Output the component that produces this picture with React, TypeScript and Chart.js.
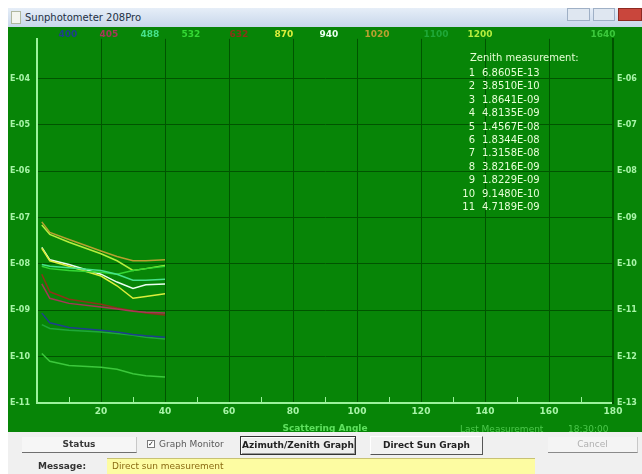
import React, { useEffect, useRef } from "react";
import { Chart, registerables } from "chart.js";
Chart.register(...registerables);

// ---------- data ----------
const wavelengths = ["400", "405", "488", "532", "632", "870", "940", "1020", "1100", "1200", "1640"];
const seriesColors = ["#1d3f8e", "#a83658", "#46e28c", "#34d834", "#8a3418", "#dcee3c", "#eafff0", "#b8a030", "#1fa838", "#b4ee3e", "#3cc83c"];
const scatteringAngles = [1.5, 4, 10, 20, 25, 30, 34, 40];
// values are log10 of measurement (exponent)
const s400 = [-9.06, -9.27, -9.37, -9.43, -9.47, -9.52, -9.55, -9.58];
const s405 = [-8.43, -8.74, -8.85, -8.93, -8.97, -9.02, -9.04, -9.06];
const s488 = [-8.01, -8.05, -8.08, -8.14, -8.22, -8.35, -8.35, -8.33];
const s532 = [-8.05, -8.10, -8.14, -8.18, -8.22, -8.14, -8.10, -8.05];
const s632 = [-8.22, -8.60, -8.76, -8.87, -8.95, -9.01, -9.06, -9.10];
const s870 = [-7.66, -7.93, -8.05, -8.26, -8.47, -8.74, -8.70, -8.64];
const s940 = [-7.64, -7.91, -8.01, -8.22, -8.39, -8.53, -8.45, -8.43];
const s1020 = [-7.09, -7.32, -7.47, -7.72, -7.84, -7.93, -7.93, -7.91];
const s1100 = [-9.31, -9.39, -9.43, -9.47, -9.50, -9.54, -9.58, -9.62];
const s1200 = [-7.16, -7.36, -7.53, -7.78, -7.93, -8.14, -8.10, -8.03];
const s1640 = [-9.93, -10.10, -10.19, -10.23, -10.27, -10.37, -10.41, -10.44];
const seriesValues = [s400, s405, s488, s532, s632, s870, s940, s1020, s1100, s1200, s1640];

const leftTickExponents = [-4, -5, -6, -7, -8, -9, -10, -11];
const rightAxisOffset = 2;
const xMajorTicks = [20, 40, 60, 80, 100, 120, 140, 160, 180];
const xMinorTicks = [10, 30, 50, 70, 90, 110, 130, 150, 170];

const zenithIndex = ["1", "2", "3", "4", "5", "6", "7", "8", "9", "10", "11"];
const zenithValues = ["6.8605E-13", "3.8510E-10", "1.8641E-09", "4.8135E-09", "1.4567E-08", "1.8344E-08", "1.3158E-08", "3.8216E-09", "1.8229E-09", "9.1480E-10", "4.7189E-09"];

// ---------- layout constants ----------
const legendX = [60, 101, 142, 183, 231, 276, 321, 369, 428, 472, 595];
const FONT = '"DejaVu Sans", Verdana, sans-serif';

const expLabel = (e: number) => {
  const n = Math.abs(Math.round(e));
  return "E-" + (n < 10 ? "0" + n : String(n));
};

const minorTickPlugin = {
  id: "minorTicks",
  afterDraw(chart: any) {
    const { ctx } = chart;
    const x = chart.scales.x;
    ctx.save();
    ctx.strokeStyle = "#9cf29c";
    ctx.lineWidth = 1;
    xMinorTicks.forEach((v) => {
      const px = Math.round(x.getPixelForValue(v)) + 0.5;
      ctx.beginPath();
      ctx.moveTo(px, x.top - 1);
      ctx.lineTo(px, x.top - 6);
      ctx.stroke();
    });
    ctx.restore();
  },
};

export default function App() {
  const canvasRef = useRef<HTMLCanvasElement>(null);

  useEffect(() => {
    const prevMargin = document.body.style.marginRight;
    document.body.style.marginRight = "0px";
    const tickFont = { family: FONT, size: 9, weight: "bold" as const };
    const yFont = { family: FONT, size: 8, weight: "bold" as const };
    const chart = new Chart(canvasRef.current as HTMLCanvasElement, {
      type: "line",
      data: {
        datasets: seriesValues.map((vals, i) => ({
          label: wavelengths[i],
          data: scatteringAngles.map((a, j) => ({ x: a, y: vals[j] })),
          borderColor: seriesColors[i],
          borderWidth: 1.5,
          pointRadius: 0,
          tension: 0,
          fill: false,
        })),
      },
      options: {
        animation: false,
        responsive: false,
        devicePixelRatio: 1,
        layout: { padding: 0 },
        plugins: { legend: { display: false }, tooltip: { enabled: false }, title: { display: false } },
        scales: {
          x: {
            type: "linear",
            position: "bottom",
            min: 0,
            max: 180,
            afterBuildTicks: (s: any) => {
              s.ticks = xMajorTicks.map((v) => ({ value: v }));
            },
            afterFit: (s: any) => {
              s.height = 29;
            },
            grid: { color: "#005400", lineWidth: 1, drawTicks: false },
            border: { color: "#9cf29c", width: 2 },
            ticks: { color: "#a8f4a8", font: tickFont, padding: 3, maxRotation: 0, autoSkip: false },
            title: {
              display: true,
              text: "Scattering Angle",
              color: "#5ee05e",
              font: { family: FONT, size: 9, weight: "bold", lineHeight: 1 },
              padding: { top: 0, bottom: -1 },
            },
          },
          y: {
            type: "linear",
            position: "left",
            min: -11,
            max: -3.14,
            afterBuildTicks: (s: any) => {
              s.ticks = leftTickExponents.map((v) => ({ value: v }));
            },
            afterFit: (s: any) => {
              s.width = 29;
            },
            grid: { color: "#005400", lineWidth: 1, drawTicks: false },
            border: { color: "#9cf29c", width: 2 },
            ticks: { color: "#a8f4a8", font: yFont, padding: 7, callback: (v: any) => expLabel(Number(v)) },
          },
          y2: {
            type: "linear",
            position: "right",
            min: -11,
            max: -3.14,
            afterBuildTicks: (s: any) => {
              s.ticks = leftTickExponents.map((v) => ({ value: v }));
            },
            afterFit: (s: any) => {
              s.width = 29;
            },
            grid: { drawOnChartArea: false, drawTicks: false },
            border: { color: "#005400", width: 2 },
            ticks: {
              color: "#a8f4a8",
              font: yFont,
              padding: 4,
              callback: (v: any) => expLabel(Number(v) - rightAxisOffset),
            },
          },
        },
      },
      plugins: [minorTickPlugin],
    });
    return () => {
      chart.destroy();
      document.body.style.marginRight = prevMargin;
    };
  }, []);

  const abs = (s: React.CSSProperties): React.CSSProperties => ({ position: "absolute", ...s });

  return (
    <div style={{ position: "relative", width: 634, height: 466, overflow: "hidden", fontFamily: FONT }}>
      {/* title bar */}
      <div style={abs({ left: 0, top: 0, width: 634, height: 19, background: "linear-gradient(#e6eef8, #c8d7eb)" })} />
      <div style={abs({ left: 3, top: 3, width: 8, height: 11, background: "#f4f6f0", border: "1px solid #b0b8a0" })} />
      <div style={abs({ left: 17, top: 0, height: 19, lineHeight: "19px", fontSize: 10, color: "#233044" })}>Sunphotometer 208Pro</div>
      <div style={abs({ left: 559, top: 0, width: 23, height: 13, background: "#dfe7f1", border: "1px solid #9fb0c6", boxSizing: "border-box" })} />
      <div style={abs({ left: 585, top: 0, width: 22, height: 13, background: "#dfe7f1", border: "1px solid #9fb0c6", boxSizing: "border-box" })} />
      <div style={abs({ left: 610, top: 0, width: 24, height: 13, background: "#c9463c", border: "1px solid #8e2a22", boxSizing: "border-box" })} />

      {/* chart */}
      <canvas ref={canvasRef} width={634} height={405} style={abs({ left: 0, top: 19, width: 634, height: 405, background: "#078507" })} />

      {/* legend labels */}
      {wavelengths.map((w, i) => (
        <div
          key={w}
          style={abs({
            left: legendX[i] - 15,
            width: 30,
            top: 20,
            textAlign: "center",
            fontSize: 9,
            fontWeight: "bold",
            lineHeight: "12px",
            color: seriesColors[i],
          })}
        >
          {w}
        </div>
      ))}

      {/* zenith block */}
      <div style={abs({ left: 462, top: 44, fontSize: 10, lineHeight: "12px", color: "#e6ffd6", whiteSpace: "nowrap" })}>Zenith measurement:</div>
      {zenithValues.map((v, i) => (
        <div key={i} style={abs({ left: 452, top: 58 + i * 13.4, fontSize: 10, lineHeight: "13px", color: "#e6ffd6", whiteSpace: "nowrap" })}>
          <span style={{ display: "inline-block", width: 15, textAlign: "right" }}>{zenithIndex[i]}</span>
          <span style={{ marginLeft: 7 }}>{v}</span>
        </div>
      ))}

      {/* last measurement */}
      <div style={abs({ left: 452, top: 416, fontSize: 9, lineHeight: "11px", color: "#4cc84c", whiteSpace: "nowrap" })}>Last Measurement</div>
      <div style={abs({ left: 560, top: 416, fontSize: 9, lineHeight: "11px", color: "#4cc84c", whiteSpace: "nowrap" })}>18:30:00</div>

      {/* bottom panel */}
      <div style={abs({ left: 0, top: 424, width: 634, height: 42, background: "#f0f0f0" })} />
      <div style={abs({ left: 14, top: 429, width: 115, height: 16, background: "#f6f6f6", borderBottom: "1px solid #6f6f6f", borderRight: "1px solid #c8c8c8", boxSizing: "border-box", textAlign: "center", fontSize: 9, fontWeight: "bold", lineHeight: "15px", color: "#3a3a3a" })}>Status</div>
      <div style={abs({ left: 139, top: 432, width: 8, height: 8, border: "1px solid #7a7a7a", background: "#fff", boxSizing: "border-box", fontSize: 7, lineHeight: "6px", textAlign: "center", color: "#222" })}>✓</div>
      <div style={abs({ left: 151, top: 430, fontSize: 9, lineHeight: "12px", color: "#5a5a5a", whiteSpace: "nowrap" })}>Graph Monitor</div>
      <div style={abs({ left: 232, top: 428, width: 116, height: 19, background: "#eeeeee", border: "1px solid #333", boxShadow: "inset 1px 1px 0 #fff, inset -1px -1px 0 #9a9a9a", boxSizing: "border-box", textAlign: "center", fontSize: 9, fontWeight: "bold", lineHeight: "17px", color: "#222", whiteSpace: "nowrap" })}>Azimuth/Zenith Graph</div>
      <div style={abs({ left: 362, top: 428, width: 113, height: 19, background: "#f2f2f2", borderRight: "1px solid #555", borderBottom: "1px solid #555", borderTop: "1px solid #fff", borderLeft: "1px solid #fff", boxSizing: "border-box", textAlign: "center", fontSize: 9, fontWeight: "bold", lineHeight: "17px", color: "#222", whiteSpace: "nowrap" })}>Direct Sun Graph</div>
      <div style={abs({ left: 540, top: 429, width: 90, height: 16, background: "#f4f4f4", borderBottom: "1px solid #8a8a8a", borderRight: "1px solid #c8c8c8", boxSizing: "border-box", textAlign: "center", fontSize: 9, lineHeight: "15px", color: "#b0b0b0" })}>Cancel</div>
      <div style={abs({ left: 30, top: 452, fontSize: 9, fontWeight: "bold", lineHeight: "12px", color: "#333" })}>Message:</div>
      <div style={abs({ left: 99, top: 450, width: 428, height: 16, background: "#fdfca2", borderTop: "1px solid #c8c274", boxSizing: "border-box", fontSize: 9, lineHeight: "14px", color: "#8a6a12", paddingLeft: 5 })}>Direct sun measurement</div>
    </div>
  );
}
